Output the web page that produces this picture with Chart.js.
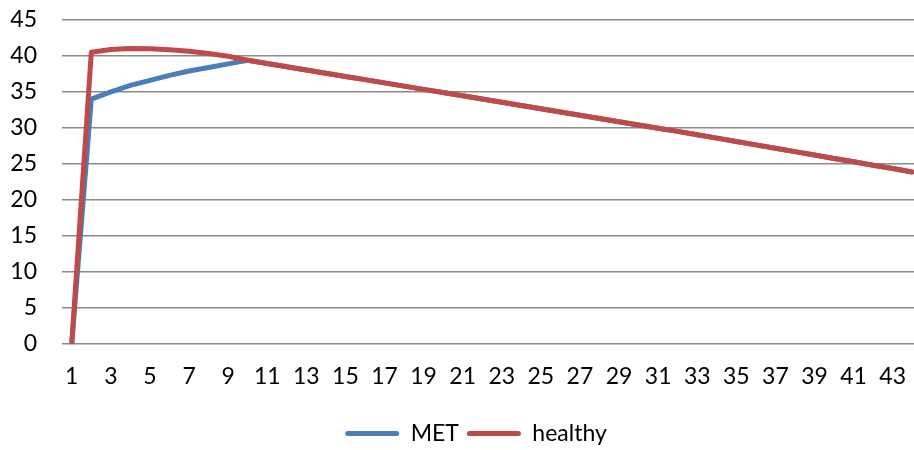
<!DOCTYPE html>
<html>
<head>
<meta charset="utf-8">
<script src="https://cdn.jsdelivr.net/npm/chart.js@4"></script>
<style>
  html, body { margin: 0; padding: 0; background: #fff; overflow: hidden; }
  #wrap { position: absolute; left: 0; top: 0; width: 952px; height: 450px; }
</style>
</head>
<body>
<div id="wrap"><canvas id="c" width="952" height="450"></canvas></div>
<script>
// Days 1..44
const categories = [];
for (let d = 1; d <= 44; d++) categories.push(String(d));

const metValues = [
  0, 34.0, 35.0, 35.9, 36.6, 37.3, 37.9, 38.4, 38.9, 39.4,
  38.95, 38.5, 38.05, 37.6, 37.15, 36.7, 36.25, 35.8, 35.35, 34.9,
  34.45, 34.0, 33.55, 33.1, 32.65, 32.2, 31.75, 31.3, 30.85, 30.4,
  29.95, 29.5, 29.03, 28.56, 28.09, 27.62, 27.15, 26.68, 26.21, 25.74,
  25.27, 24.8, 24.33, 23.86
];

const healthyValues = [
  0, 40.5, 40.9, 41.05, 41.0, 40.85, 40.65, 40.35, 39.95, 39.4,
  38.95, 38.5, 38.05, 37.6, 37.15, 36.7, 36.25, 35.8, 35.35, 34.9,
  34.45, 34.0, 33.55, 33.1, 32.65, 32.2, 31.75, 31.3, 30.85, 30.4,
  29.95, 29.5, 29.03, 28.56, 28.09, 27.62, 27.15, 26.68, 26.21, 25.74,
  25.27, 24.8, 24.33, 23.86
];

const yTicks = [0, 5, 10, 15, 20, 25, 30, 35, 40, 45];

const FONT = { family: 'Lato', size: 23 };

// Centre the legend under the whole plot frame and set it a little lower.
const legendNudge = {
  id: 'legendNudge',
  beforeDraw(chart) {
    const lg = chart.legend;
    if (!lg || lg._nudged) return;
    lg.left += 30;
    lg.top += 5;
    lg.bottom += 5;
    lg._nudged = true;
  }
};

new Chart(document.getElementById('c'), {
  type: 'line',
  data: {
    labels: categories,
    datasets: [
      {
        label: 'MET',
        data: metValues,
        borderColor: '#4a7ebb',
        backgroundColor: '#4a7ebb',
        borderWidth: 5,
        pointRadius: 0,
        tension: 0,
        borderJoinStyle: 'round',
        borderCapStyle: 'round',
        order: 1
      },
      {
        label: 'healthy',
        data: healthyValues,
        borderColor: '#be4b48',
        backgroundColor: '#be4b48',
        borderWidth: 5,
        pointRadius: 0,
        tension: 0,
        borderJoinStyle: 'round',
        borderCapStyle: 'round',
        order: 0
      }
    ]
  },
  plugins: [legendNudge],
  options: {
    responsive: false,
    animation: false,
    layout: { padding: { left: 0, right: 30, top: 20, bottom: 0 } },
    plugins: {
      tooltip: { enabled: false },
      legend: {
        position: 'bottom',
        labels: {
          font: FONT,
          color: '#000',
          boxWidth: 54,
          boxHeight: 5,
          padding: 8,
          sort: (a, b) => a.datasetIndex - b.datasetIndex,
          generateLabels: (chart) => chart.data.datasets.map((ds, i) => ({
            text: ds.label,
            fillStyle: ds.borderColor,
            strokeStyle: ds.borderColor,
            lineWidth: 0,
            fontColor: '#000',
            borderRadius: 2.5,
            datasetIndex: i
          })),
          useBorderRadius: true,
          borderRadius: 2.5
        }
      }
    },
    scales: {
      x: {
        offset: true,
        grid: { display: false, drawTicks: false },
        border: { display: false },
        ticks: {
          font: FONT,
          color: '#000',
          padding: 19,
          autoSkip: false,
          maxRotation: 0,
          callback: function (value, index) {
            return index % 2 === 0 ? categories[index] : '';
          }
        }
      },
      y: {
        min: 0,
        max: 45,
        afterBuildTicks: (scale) => { scale.ticks = yTicks.map(v => ({ value: v })); },
        afterFit: (scale) => {
          scale.width = 62;
          scale.paddingTop = 0;
          scale.paddingBottom = 0;
        },
        grid: { color: '#8a8a8a', lineWidth: 1.5, drawTicks: false },
        border: { display: false },
        ticks: { font: FONT, color: '#000', padding: 25 }
      }
    }
  }
});
</script>
</body>
</html>
